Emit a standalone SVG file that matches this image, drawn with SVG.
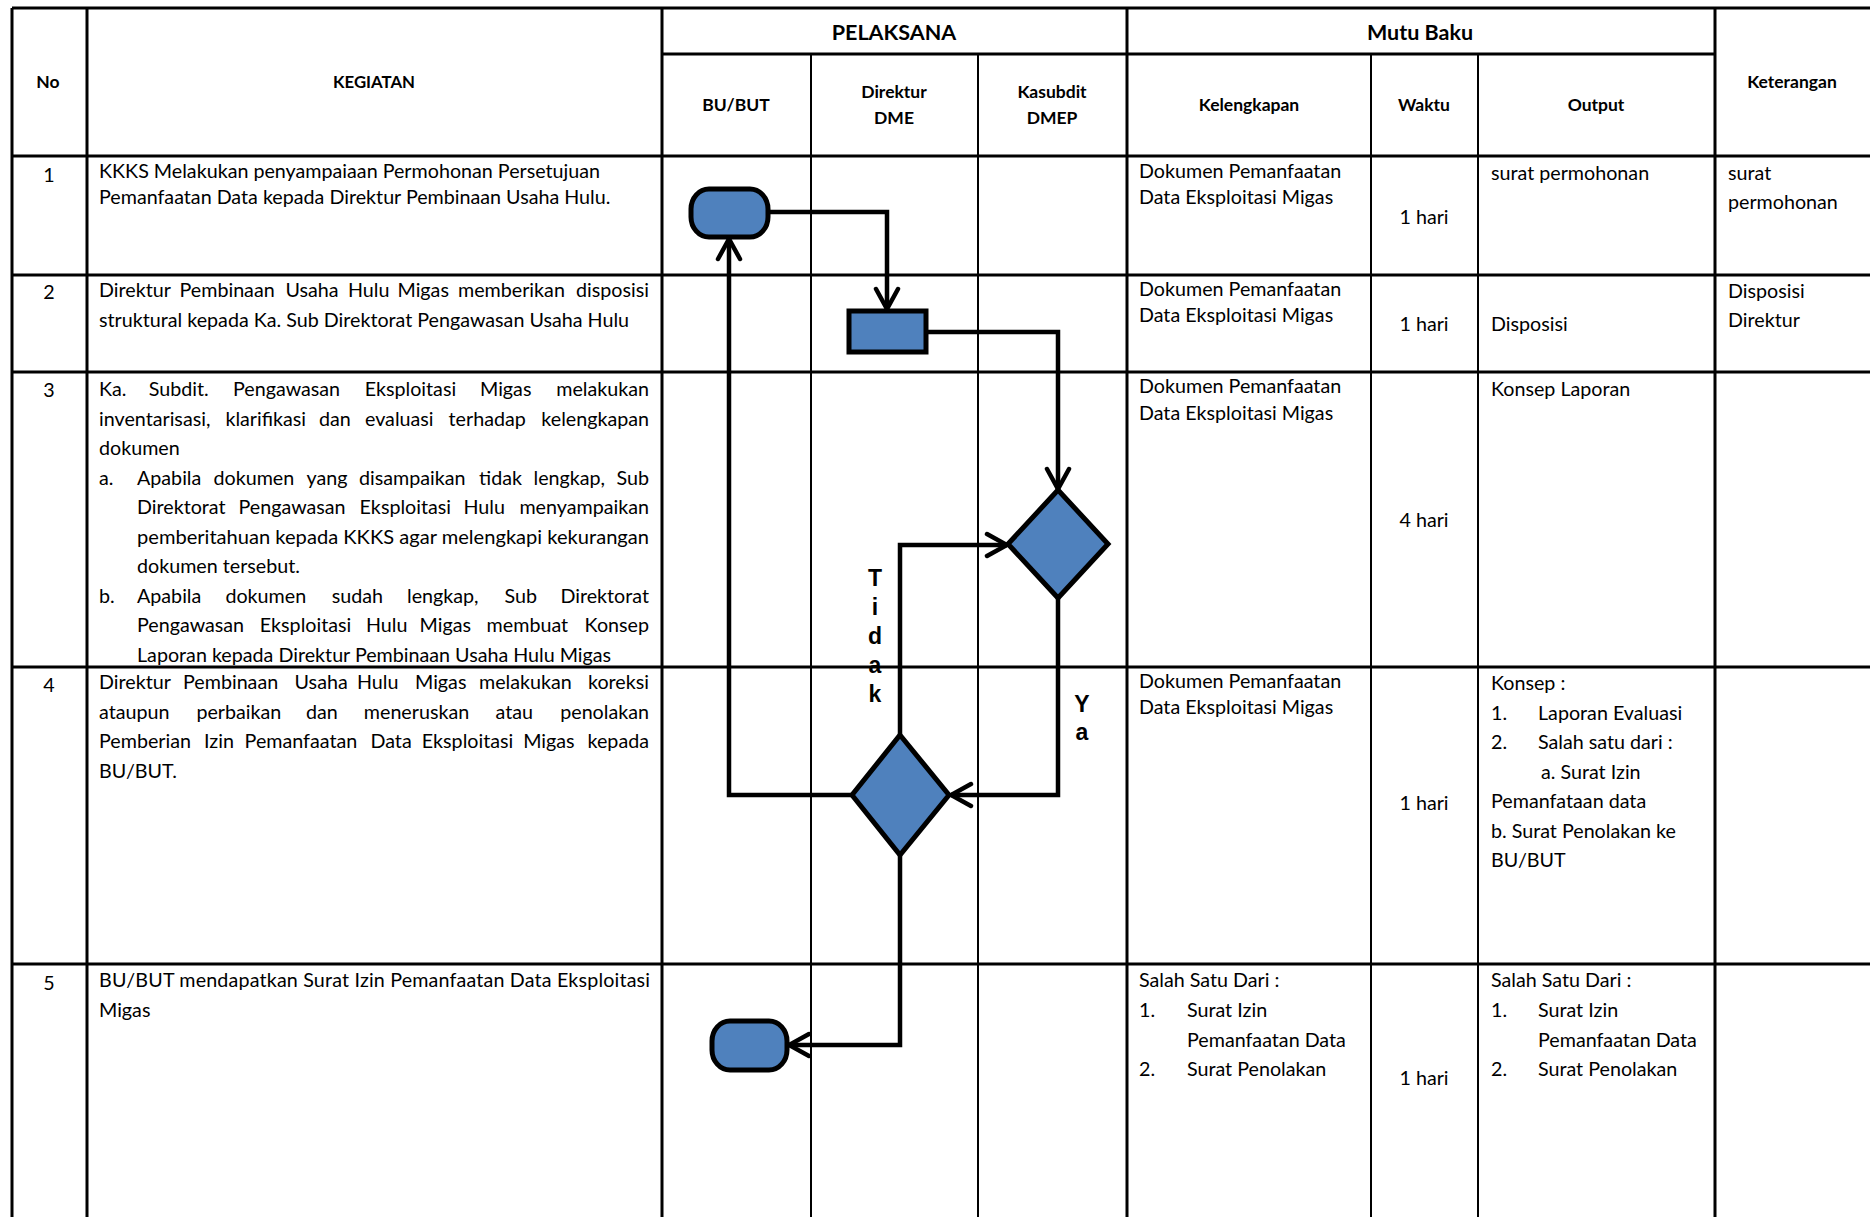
<svg xmlns="http://www.w3.org/2000/svg" width="1870" height="1217" viewBox="0 0 1870 1217">
<style>
.t{font-family:Lato,'Liberation Sans',sans-serif;font-size:19.7px;fill:#000}
.e{text-anchor:end}
.m{text-anchor:middle}
.h{font-family:Lato,'Liberation Sans',sans-serif;font-weight:bold;font-size:17.5px;text-anchor:middle;fill:#000}
.hb{font-family:Lato,'Liberation Sans',sans-serif;font-weight:bold;font-size:21.5px;text-anchor:middle;fill:#000}
.lbl{font-family:'Liberation Sans',Arial,sans-serif;font-weight:bold;font-size:23px;text-anchor:middle;fill:#000}
.g3{stroke:#000;stroke-width:3;fill:none}
.g2{stroke:#000;stroke-width:2;fill:none}
.shape{fill:#4F81BD;stroke:#000;stroke-width:5}
.conn{fill:none;stroke:#000;stroke-width:4.5;marker-end:url(#arr)}
</style>
<defs>
<marker id="arr" markerUnits="userSpaceOnUse" markerWidth="30" markerHeight="30" viewBox="0 0 30 30" refX="26" refY="15" orient="auto">
<path d="M6,4 L26,15 L6,26" fill="none" stroke="#000" stroke-width="4.5" stroke-linecap="round" stroke-linejoin="miter"/>
</marker>
</defs>
<rect width="1870" height="1217" fill="#fff"/>

<g id="table">
<path class="g3" d="M12,8 H1870 M662,54 H1715 M12,156 H1870 M12,275 H1870 M12,372 H1870 M12,667 H1870 M12,964 H1870"/>
<path class="g3" d="M12,8 V1217 M87,8 V1217 M662,8 V1217 M1127,8 V1217 M1715,8 V1217"/>
<path class="g2" d="M811,54 V1217 M978,54 V1217 M1371,54 V1217 M1478,54 V1217"/>
</g>

<g id="header">
<text class="h" x="48" y="88">No</text>
<text class="h" x="374" y="88" style="font-size:16.8px">KEGIATAN</text>
<text class="hb" x="894" y="40">PELAKSANA</text>
<text class="hb" x="1420" y="40">Mutu Baku</text>
<text class="h" x="736" y="111">BU/BUT</text>
<text class="h" x="894" y="98">Direktur</text>
<text class="h" x="894" y="124">DME</text>
<text class="h" x="1052" y="98">Kasubdit</text>
<text class="h" x="1052" y="124">DMEP</text>
<text class="h" x="1249" y="111">Kelengkapan</text>
<text class="h" x="1424" y="111">Waktu</text>
<text class="h" x="1596" y="111">Output</text>
<text class="h" x="1792" y="88">Keterangan</text>
</g>

<g id="row1">
<text class="t m" x="49" y="182">1</text>
<text class="t" x="99" y="177.5">KKKS Melakukan penyampaiaan Permohonan Persetujuan</text>
<text class="t" x="99" y="204">Pemanfaatan Data kepada Direktur Pembinaan Usaha Hulu.</text>
<text class="t" x="1139" y="177.5">Dokumen Pemanfaatan</text>
<text class="t" x="1139" y="204">Data Eksploitasi Migas</text>
<text class="t m" x="1424" y="224">1 hari</text>
<text class="t" x="1491" y="180">surat permohonan</text>
<text class="t" x="1728" y="180">surat</text>
<text class="t" x="1728" y="208.5">permohonan</text>
</g>

<g id="row2">
<text class="t m" x="49" y="299">2</text>
<text class="t" y="297"><tspan x="99">Direktur</tspan><tspan x="179.5">Pembinaan</tspan><tspan x="285.5">Usaha</tspan><tspan x="348">Hulu</tspan><tspan x="397.5">Migas</tspan><tspan x="458">memberikan</tspan></text>
<text class="t e" x="649" y="297">disposisi</text>
<text class="t" x="99" y="326.5">struktural kepada Ka. Sub Direktorat Pengawasan Usaha Hulu</text>
<text class="t" x="1139" y="295.6">Dokumen Pemanfaatan</text>
<text class="t" x="1139" y="321.8">Data Eksploitasi Migas</text>
<text class="t m" x="1424" y="331">1 hari</text>
<text class="t" x="1491" y="331">Disposisi</text>
<text class="t" x="1728" y="298">Disposisi</text>
<text class="t" x="1728" y="326.6">Direktur</text>
</g>

<g id="row3">
<text class="t m" x="49" y="397">3</text>
<text class="t" y="396"><tspan x="99">Ka.</tspan><tspan x="148.7">Subdit.</tspan><tspan x="233">Pengawasan</tspan><tspan x="364.7">Eksploitasi</tspan><tspan x="480">Migas</tspan></text>
<text class="t e" x="649" y="396">melakukan</text>
<text class="t" y="425.5"><tspan x="99">inventarisasi,</tspan><tspan x="225.4">klarifikasi</tspan><tspan x="319">dan</tspan><tspan x="365">evaluasi</tspan><tspan x="448.6">terhadap</tspan></text>
<text class="t e" x="649" y="425.5">kelengkapan</text>
<text class="t" x="99" y="455">dokumen</text>
<text class="t" y="484.5"><tspan x="99">a.</tspan><tspan x="137">Apabila</tspan><tspan x="213.5">dokumen</tspan><tspan x="306.5">yang</tspan><tspan x="359">disampaikan</tspan><tspan x="479">tidak</tspan><tspan x="533.5">lengkap,</tspan></text>
<text class="t e" x="649" y="484.5">Sub</text>
<text class="t" y="514"><tspan x="137">Direktorat</tspan><tspan x="238.5">Pengawasan</tspan><tspan x="359.6">Eksploitasi</tspan><tspan x="463.5">Hulu</tspan></text>
<text class="t e" x="649" y="514">menyampaikan</text>
<text class="t" x="137" y="543.5" textLength="512" lengthAdjust="spacingAndGlyphs">pemberitahuan kepada KKKS agar melengkapi kekurangan</text>
<text class="t" x="137" y="573">dokumen tersebut.</text>
<text class="t" y="602.5"><tspan x="99">b.</tspan><tspan x="137">Apabila</tspan><tspan x="225.4">dokumen</tspan><tspan x="331.7">sudah</tspan><tspan x="407">lengkap,</tspan><tspan x="504.5">Sub</tspan></text>
<text class="t e" x="649" y="602.5">Direktorat</text>
<text class="t" y="632"><tspan x="137">Pengawasan</tspan><tspan x="259.8">Eksploitasi</tspan><tspan x="366">Hulu</tspan><tspan x="419.6">Migas</tspan><tspan x="486.6">membuat</tspan></text>
<text class="t e" x="649" y="632">Konsep</text>
<text class="t" x="137" y="661.5">Laporan kepada Direktur Pembinaan Usaha Hulu Migas</text>
<text class="t" x="1139" y="393.4">Dokumen Pemanfaatan</text>
<text class="t" x="1139" y="419.6">Data Eksploitasi Migas</text>
<text class="t m" x="1424" y="527">4 hari</text>
<text class="t" x="1491" y="395.8">Konsep Laporan</text>
</g>

<g id="row4">
<text class="t m" x="49" y="691.5">4</text>
<text class="t" y="689"><tspan x="99">Direktur</tspan><tspan x="183">Pembinaan</tspan><tspan x="294.6">Usaha</tspan><tspan x="357">Hulu</tspan><tspan x="415">Migas</tspan><tspan x="479">melakukan</tspan></text>
<text class="t e" x="649" y="689">koreksi</text>
<text class="t" y="718.5"><tspan x="99">ataupun</tspan><tspan x="196.4">perbaikan</tspan><tspan x="306">dan</tspan><tspan x="363.8">meneruskan</tspan><tspan x="495.5">atau</tspan></text>
<text class="t e" x="649" y="718.5">penolakan</text>
<text class="t" y="748"><tspan x="99">Pemberian</tspan><tspan x="204">Izin</tspan><tspan x="244.6">Pemanfaatan</tspan><tspan x="370.5">Data</tspan><tspan x="421.8">Eksploitasi</tspan><tspan x="523.2">Migas</tspan></text>
<text class="t e" x="649" y="748">kepada</text>
<text class="t" x="99" y="777.5">BU/BUT.</text>
<text class="t" x="1139" y="688">Dokumen Pemanfaatan</text>
<text class="t" x="1139" y="714">Data Eksploitasi Migas</text>
<text class="t m" x="1424" y="809.6">1 hari</text>
<text class="t" x="1491" y="690">Konsep :</text>
<text class="t" x="1491" y="720">1.</text>
<text class="t" x="1538" y="720">Laporan Evaluasi</text>
<text class="t" x="1491" y="749">2.</text>
<text class="t" x="1538" y="749">Salah satu dari :</text>
<text class="t" x="1541" y="778.6">a. Surat Izin</text>
<text class="t" x="1491" y="808.4">Pemanfataan data</text>
<text class="t" x="1491" y="838">b. Surat Penolakan ke</text>
<text class="t" x="1491" y="867">BU/BUT</text>
</g>

<g id="row5">
<text class="t m" x="49" y="990">5</text>
<text class="t" x="99" y="987" textLength="551" lengthAdjust="spacing">BU/BUT mendapatkan Surat Izin Pemanfaatan Data Eksploitasi</text>
<text class="t" x="99" y="1016.5">Migas</text>
<text class="t" x="1139" y="987">Salah Satu Dari :</text>
<text class="t" x="1139" y="1017">1.</text>
<text class="t" x="1187" y="1017">Surat Izin</text>
<text class="t" x="1187" y="1047">Pemanfaatan Data</text>
<text class="t" x="1139" y="1075.6">2.</text>
<text class="t" x="1187" y="1075.6">Surat Penolakan</text>
<text class="t m" x="1424" y="1085">1 hari</text>
<text class="t" x="1491" y="987">Salah Satu Dari :</text>
<text class="t" x="1491" y="1017">1.</text>
<text class="t" x="1538" y="1017">Surat Izin</text>
<text class="t" x="1538" y="1047">Pemanfaatan Data</text>
<text class="t" x="1491" y="1075.6">2.</text>
<text class="t" x="1538" y="1075.6">Surat Penolakan</text>
</g>

<g id="connectors">
<path class="conn" d="M769,212 H887 V309"/>
<path class="conn" d="M927,332 H1058 V489"/>
<path class="conn" d="M1058,598 V795 H951"/>
<path class="conn" d="M900,735 V545 H1007"/>
<path class="conn" d="M852,795 H729 V239"/>
<path class="conn" d="M900,855 V1045 H789"/>
</g>

<g id="start-terminator"><rect class="shape" x="691" y="189" width="77" height="48" rx="18" ry="20"/></g>
<g id="process-disposisi"><rect class="shape" x="849" y="311" width="77" height="41"/></g>
<g id="decision-evaluasi"><polygon class="shape" points="1058,490 1108,544 1058,598 1008,544"/></g>
<g id="decision-direktur"><polygon class="shape" points="900,735 949,795 900,855 852,795"/></g>
<g id="end-terminator"><rect class="shape" x="712" y="1021" width="75" height="49" rx="18" ry="20"/></g>

<g id="labels">
<text class="lbl" x="875" y="586">T</text>
<text class="lbl" x="875" y="615">i</text>
<text class="lbl" x="875" y="644">d</text>
<text class="lbl" x="875" y="673">a</text>
<text class="lbl" x="875" y="702">k</text>
<text class="lbl" x="1082" y="712">Y</text>
<text class="lbl" x="1082" y="740">a</text>
</g>
</svg>
